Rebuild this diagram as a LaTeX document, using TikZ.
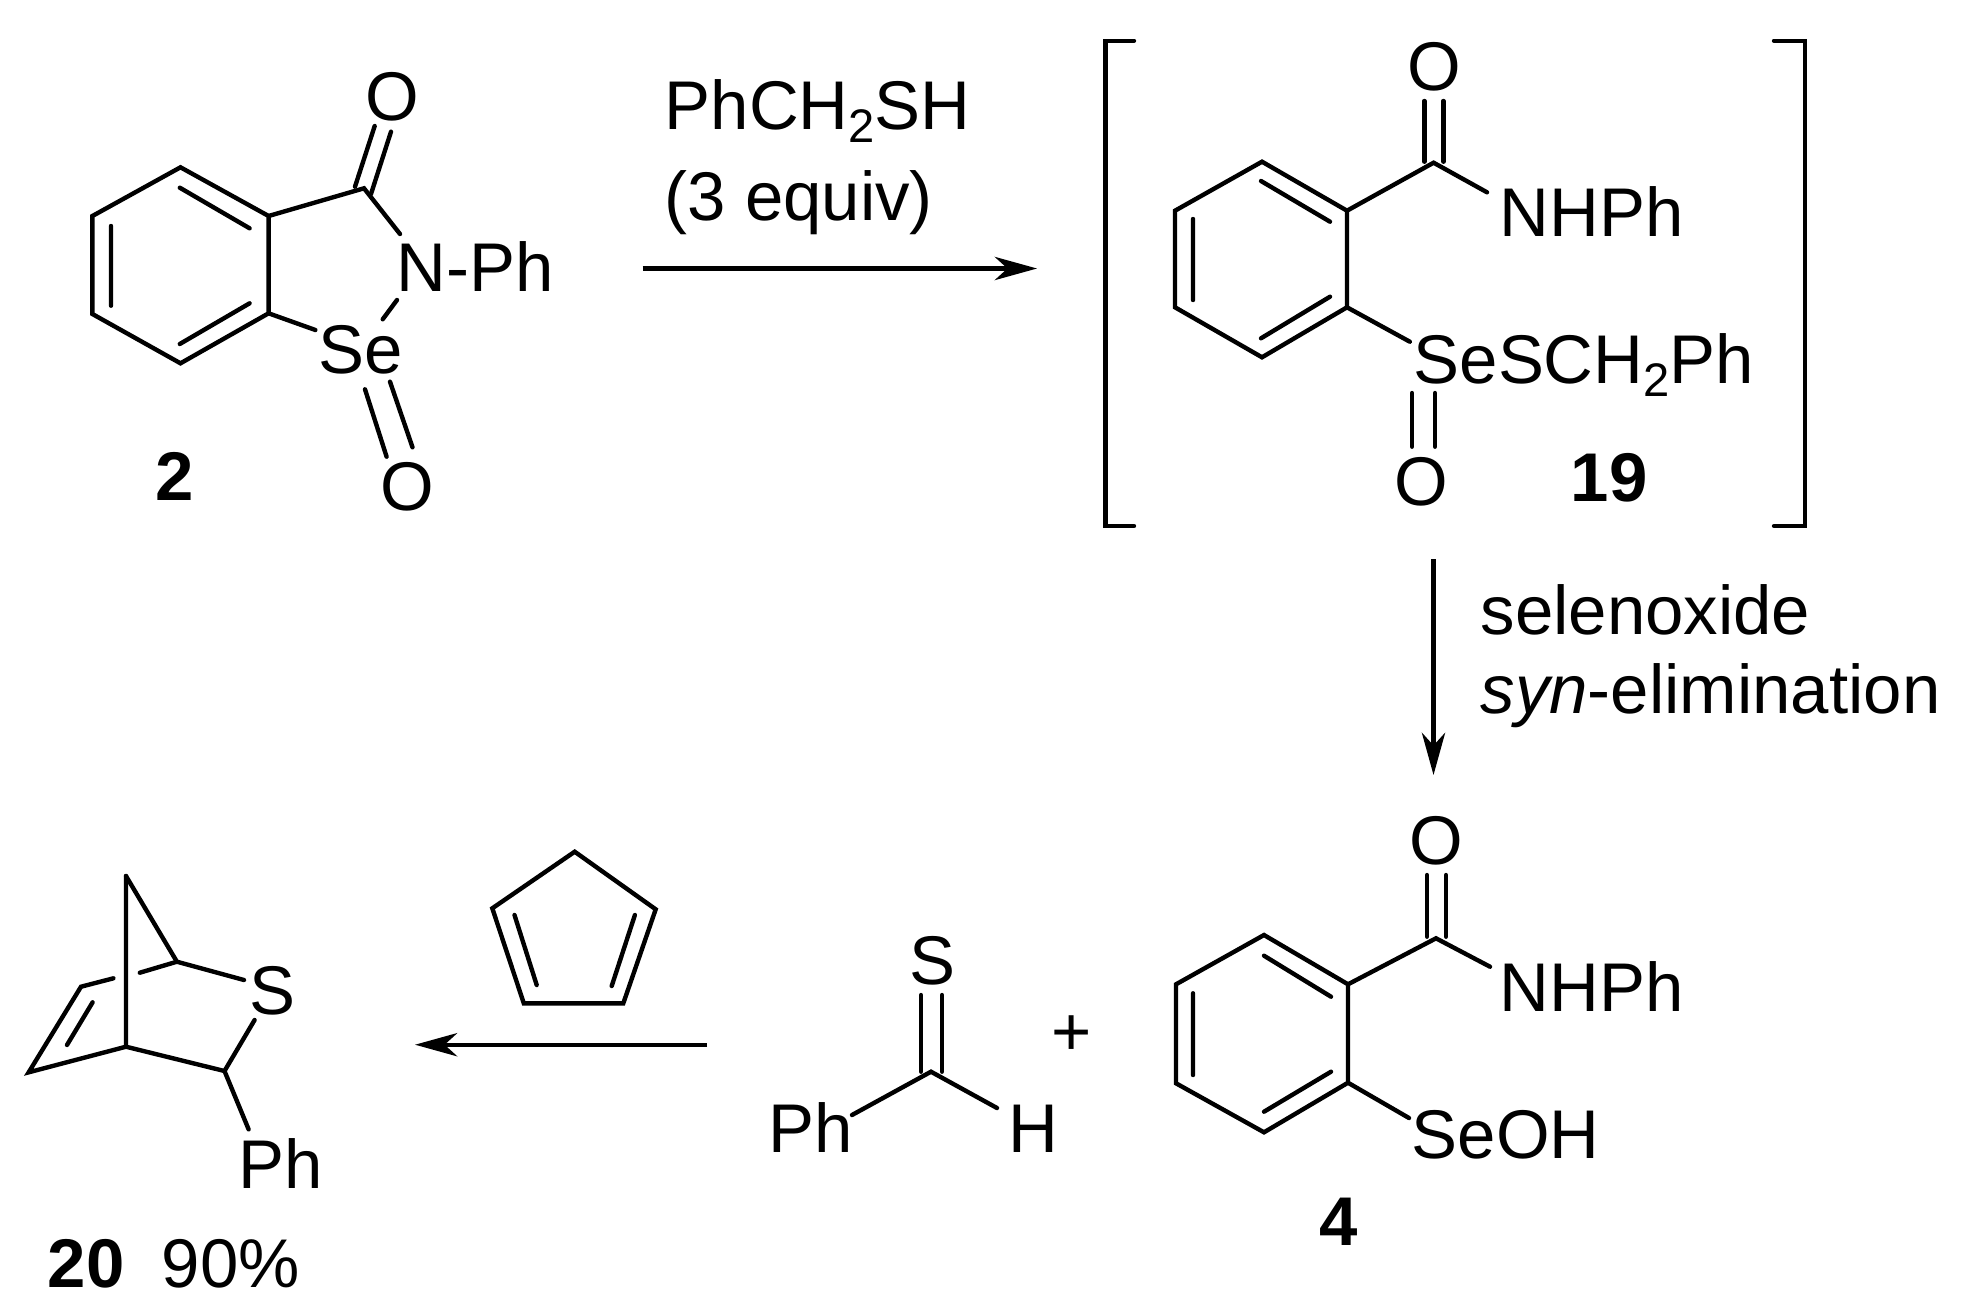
\documentclass[tikz,border=0pt]{standalone}
\usepackage{fontspec}
\setmainfont{Liberation Sans}
\usetikzlibrary{arrows.meta}
\newcommand{\subtwo}{\raisebox{-3.8pt}{\fontsize{13.4}{14}\selectfont 2}}
\tikzset{
  bond/.style={line width=1.25pt,line join=miter,line cap=round},
  rxnarrow/.style={line width=1.25pt,-{Stealth[length=12pt,width=6.6pt,inset=3.6pt]}},
  atom/.style={inner sep=0pt,anchor=base west,font=\fontsize{19.6}{22}\selectfont},
  cpdno/.style={atom,font=\fontsize{19.6}{22}\selectfont\bfseries}
}
\begin{document}
\begin{tikzpicture}[x=.01cm,y=-.01cm]
\useasboundingbox(0,0)rectangle(1988,1309);
\begin{scope}
\draw[bond](180.5,167.3)coordinate(a1)--(268.6,216)coordinate(a2)--(268.6,313.3)coordinate(a3)--(180.5,363.3)coordinate(a4)--(92.4,314)coordinate(a5)--(92.4,216)coordinate(a6)--cycle;
\draw[bond](179.8,187.7)--(249.6,228.3)(111,226)--(111,305.7)(179.8,344)--(249.6,303.3);
\draw[bond](a2)--(364,188.3)coordinate(cco)--(400,234);
\draw[bond](355,186.7)--(374.7,126)(371,194)--(391,131.7);
\draw[bond](397,300)--(382.7,319.3)(a3)--(315.4,330);
\draw[bond](365,389.3)--(386.6,456.7)(390,381.7)--(412.5,447.3);
\node[atom,anchor=base](otop) at (392,120){O};
\node[atom](nph) at (396,291.7){N-Ph};
\node[atom](se) at (318,373){Se};
\node[atom,anchor=base](obot) at (407,510){O};
\node[cpdno,anchor=base](cpdtwo) at (174.5,500){2};
\end{scope}
\coordinate(ra) at (642.5,268.5);
\coordinate(rb) at (1037,268.5);
\draw[rxnarrow](ra)--(rb);
\node[atom](thiol) at (664,129){PhCH\subtwo SH};
\node[atom](equiv) at (664,220){(3 equiv)};
\begin{scope}
\draw[bond](1134,40.7)--(1105.4,40.7)--(1105.4,526)--(1134,526);
\draw[bond](1774,40.7)--(1805,40.7)--(1805,526)--(1774,526);
\draw[bond](1262,161.7)coordinate(b1)--(1347,210.7)coordinate(b2)--(1347,307.3)coordinate(b3)--(1262,357.3)coordinate(b4)--(1175,307.3)coordinate(b5)--(1175,210.7)coordinate(b6)--cycle;
\draw[bond](1261,181)--(1330,221.7)(1193,219)--(1193,300)(1261,338.3)--(1330,296.7);
\draw[bond](b2)--(1433.6,162.7)coordinate(bco)--(1487,192.3);
\draw[bond](1424.3,101)--(1424.3,161.7)(1443.4,101)--(1443.4,161.7);
\draw[bond](b3)--(1409.8,341.7);
\draw[bond](1412,393)--(1412,446.7)(1435,393)--(1435,446.7);
\node[atom,anchor=base](bo) at (1434,90.5){O};
\node[atom](bn) at (1499,236.7){NHPh};
\node[atom](bse) at (1413,383.3){SeSCH\subtwo Ph};
\node[atom,anchor=base](bob) at (1421,505.5){O};
\node[cpdno,anchor=base](cpdnineteen) at (1609,501.7){19};
\end{scope}
\coordinate(rc) at (1433.5,559);
\coordinate(rd) at (1433.5,775);
\draw[rxnarrow](rc)--(rd);
\node[atom](sel) at (1480,634.5){selenoxide};
\node[atom](syn) at (1480,713){\textit{syn}-elimination};
\begin{scope}
\draw[bond](1264,935)coordinate(c1)--(1348,984.3)coordinate(c2)--(1348,1082.7)coordinate(c3)--(1264,1132.3)coordinate(c4)--(1176,1083.3)coordinate(c5)--(1176,984.3)coordinate(c6)--cycle;
\draw[bond](1264,955.7)--(1331,996.7)(1193,993.3)--(1193,1075)(1264,1111.7)--(1331,1071.7);
\draw[bond](c2)--(1436,938.3)coordinate(cco)--(1490,966.7);
\draw[bond](1427,875)--(1427,936.7)(1446,875)--(1446,936.7);
\draw[bond](c3)--(1409,1118);
\node[atom,anchor=base](co) at (1436,864.5){O};
\node[atom](cn) at (1499,1011.7){NHPh};
\node[atom](cse) at (1411,1158){SeOH};
\node[cpdno,anchor=base](cpdfour) at (1339,1245.7){4};
\end{scope}
\begin{scope}
\draw[bond](921,995)--(921,1071.7)(942,995)--(942,1071.7);
\draw[bond](852,1115)--(931,1071.7)coordinate(dc)--(997,1108);
\node[atom,anchor=base](ds) at (932,984.5){S};
\node[atom](dph) at (768,1152){Ph};
\node[atom](dh) at (1008,1152){H};
\node[atom,anchor=center](plus) at (1072,1036){+};
\end{scope}
\coordinate(re) at (707,1044.7);
\coordinate(rf) at (415,1044.7);
\draw[rxnarrow](re)--(rf);
\begin{scope}
\draw[bond](574.7,851.7)coordinate(e1)--(655.7,909.3)coordinate(e2)--(623.3,1003.3)coordinate(e3)--(523.8,1003.3)coordinate(e4)--(492.3,908.3)coordinate(e5)--cycle;
\draw[bond](514.5,915)--(536.7,985)(634.9,915)--(611.7,986);
\end{scope}
\begin{scope}
\draw[bond](126,876)coordinate(f1)--(176.9,961.7)coordinate(f2)--(244,980);
\draw[bond](f1)--(126,1046.7)coordinate(f3)--(224.5,1071)coordinate(f4)--(254.6,1020);
\draw[bond](f2)--(139.8,972.7)(113.4,978.3)--(81,986.7)coordinate(f5)--(28.7,1072.3)coordinate(f6)--(f3);
\draw[bond](92.6,1002.3)--(67,1045);
\draw[bond](f4)--(248.6,1129.3);
\node[atom,anchor=base](fs) at (272,1014){S};
\node[atom](fph) at (238,1188){Ph};
\node[cpdno](cpdtwenty) at (47,1287){20};
\node[atom](yield) at (161,1287){90\%};
\end{scope}
\end{tikzpicture}
\end{document}
